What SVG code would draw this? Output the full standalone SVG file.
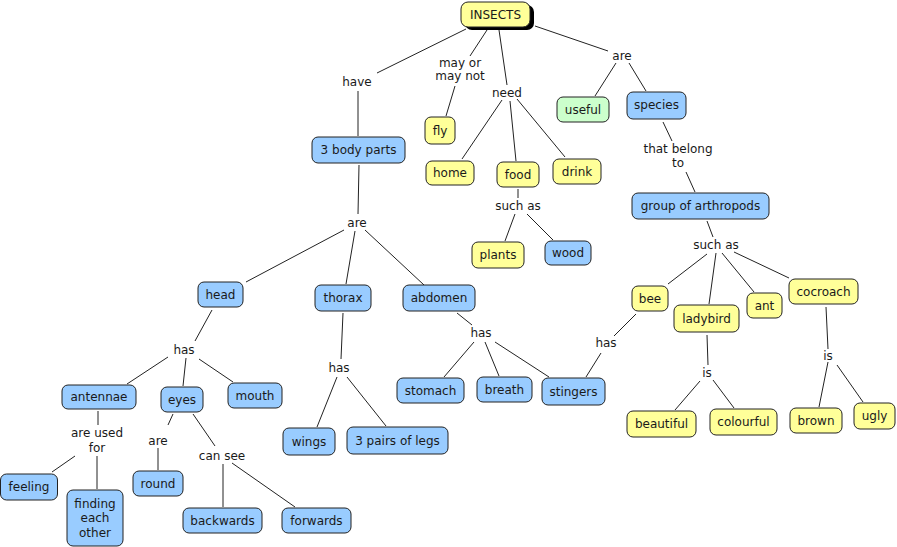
<svg xmlns="http://www.w3.org/2000/svg" width="897" height="547" viewBox="0 0 897 547">
<style>
text{font-family:"DejaVu Sans",Verdana,sans-serif;font-size:12px;fill:#1a1a1a;text-anchor:middle}
rect.n{stroke:#222;stroke-width:1}
.y{fill:#ffff99}.b{fill:#99ccff}.g{fill:#ccffcc}
#connectors line{stroke:#222;stroke-width:1}
</style>
<rect width="897" height="547" fill="#fff"/>
<g id="connectors">
<line x1="466" y1="29" x2="377" y2="73"/>
<line x1="358" y1="91" x2="358" y2="136"/>
<line x1="487" y1="30" x2="470" y2="56"/>
<line x1="455" y1="86" x2="446" y2="116"/>
<line x1="499" y1="30" x2="507" y2="85"/>
<line x1="502" y1="100" x2="462" y2="159"/>
<line x1="510" y1="101" x2="516" y2="161"/>
<line x1="517" y1="99" x2="565" y2="157"/>
<line x1="535" y1="26" x2="608" y2="51"/>
<line x1="616" y1="63" x2="595" y2="96"/>
<line x1="629" y1="63" x2="646" y2="91"/>
<line x1="663" y1="122" x2="672" y2="141"/>
<line x1="686" y1="172" x2="695" y2="192"/>
<line x1="518" y1="189" x2="518" y2="198"/>
<line x1="515" y1="214" x2="505" y2="241"/>
<line x1="527" y1="214" x2="553" y2="240"/>
<line x1="359" y1="165" x2="358" y2="214"/>
<line x1="344" y1="230" x2="246" y2="282"/>
<line x1="355" y1="231" x2="346" y2="284"/>
<line x1="365" y1="230" x2="424" y2="285"/>
<line x1="212" y1="310" x2="195" y2="341"/>
<line x1="186" y1="358" x2="183" y2="386"/>
<line x1="199" y1="359" x2="233" y2="382"/>
<line x1="168" y1="357" x2="127" y2="384"/>
<line x1="98" y1="411" x2="98" y2="425"/>
<line x1="97" y1="456" x2="97" y2="489"/>
<line x1="75" y1="456" x2="52" y2="472"/>
<line x1="173" y1="414" x2="168" y2="425"/>
<line x1="158" y1="448" x2="158" y2="470"/>
<line x1="193" y1="414" x2="215" y2="446"/>
<line x1="223" y1="464" x2="223" y2="507"/>
<line x1="232" y1="463" x2="295" y2="507"/>
<line x1="343" y1="313" x2="341" y2="359"/>
<line x1="337" y1="377" x2="317" y2="427"/>
<line x1="347" y1="377" x2="386" y2="426"/>
<line x1="457" y1="313" x2="472" y2="325"/>
<line x1="474" y1="342" x2="444" y2="377"/>
<line x1="485" y1="342" x2="499" y2="376"/>
<line x1="495" y1="342" x2="549" y2="377"/>
<line x1="636" y1="314" x2="614" y2="336"/>
<line x1="601" y1="353" x2="586" y2="377"/>
<line x1="707" y1="221" x2="713" y2="237"/>
<line x1="707" y1="254" x2="668" y2="284"/>
<line x1="716" y1="253" x2="709" y2="304"/>
<line x1="722" y1="253" x2="754" y2="292"/>
<line x1="734" y1="252" x2="789" y2="278"/>
<line x1="707" y1="335" x2="708" y2="365"/>
<line x1="700" y1="381" x2="675" y2="410"/>
<line x1="713" y1="380" x2="734" y2="408"/>
<line x1="826" y1="307" x2="828" y2="349"/>
<line x1="828" y1="362" x2="819" y2="407"/>
<line x1="837" y1="365" x2="863" y2="402"/>
</g>
<g id="labels">
<text x="357" y="86">have</text>
<text x="460" y="67">may or</text>
<text x="460" y="80">may not</text>
<text x="507" y="97">need</text>
<text x="622" y="60">are</text>
<text x="678" y="153">that belong</text>
<text x="678" y="167">to</text>
<text x="518" y="210">such as</text>
<text x="357" y="227">are</text>
<text x="716" y="249">such as</text>
<text x="481" y="337">has</text>
<text x="606" y="347">has</text>
<text x="707" y="377">is</text>
<text x="828" y="360">is</text>
<text x="184" y="354">has</text>
<text x="339" y="372">has</text>
<text x="97" y="437">are used</text>
<text x="97" y="452">for</text>
<text x="158" y="445">are</text>
<text x="222" y="460">can see</text>
</g>
<g id="insects"><rect x="465" y="5" width="69" height="25" rx="7" fill="#000"/><rect class="n y" x="461" y="2" width="69" height="25" rx="7"/><text x="495.5" y="19">INSECTS</text></g>
<g id="fly"><rect class="n y" x="425" y="117" width="30" height="27" rx="6"/><text x="440" y="135">fly</text></g>
<g id="body-parts"><rect class="n b" x="312" y="137" width="93" height="26" rx="6"/><text x="358.5" y="154">3 body parts</text></g>
<g id="useful"><rect class="n g" x="557" y="97" width="52" height="25" rx="6"/><text x="583" y="114">useful</text></g>
<g id="species"><rect class="n b" x="627" y="92" width="59" height="27" rx="6"/><text x="656.5" y="109">species</text></g>
<g id="home"><rect class="n y" x="426" y="161" width="48" height="24" rx="6"/><text x="450" y="177">home</text></g>
<g id="food"><rect class="n y" x="497" y="162" width="42" height="25" rx="6"/><text x="518" y="179">food</text></g>
<g id="drink"><rect class="n y" x="553" y="159" width="48" height="25" rx="6"/><text x="577" y="176">drink</text></g>
<g id="plants"><rect class="n y" x="472" y="242" width="52" height="26" rx="6"/><text x="498" y="259">plants</text></g>
<g id="wood"><rect class="n b" x="545" y="241" width="46" height="24" rx="6"/><text x="568" y="257">wood</text></g>
<g id="arthropods"><rect class="n b" x="632" y="193" width="137" height="26" rx="6"/><text x="700.5" y="210">group of arthropods</text></g>
<g id="head"><rect class="n b" x="198" y="282" width="45" height="25" rx="6"/><text x="220.5" y="299">head</text></g>
<g id="thorax"><rect class="n b" x="315" y="285" width="56" height="26" rx="6"/><text x="343" y="302">thorax</text></g>
<g id="abdomen"><rect class="n b" x="403" y="285" width="72" height="26" rx="6"/><text x="439" y="302">abdomen</text></g>
<g id="bee"><rect class="n y" x="632" y="286" width="36" height="25" rx="6"/><text x="650" y="303">bee</text></g>
<g id="ladybird"><rect class="n y" x="674" y="305" width="65" height="27" rx="6"/><text x="706.5" y="323">ladybird</text></g>
<g id="ant"><rect class="n y" x="747" y="293" width="35" height="25" rx="6"/><text x="764.5" y="310">ant</text></g>
<g id="cocroach"><rect class="n y" x="789" y="279" width="69" height="25" rx="6"/><text x="823.5" y="296">cocroach</text></g>
<g id="stomach"><rect class="n b" x="397" y="378" width="67" height="25" rx="6"/><text x="430.5" y="395">stomach</text></g>
<g id="breath"><rect class="n b" x="477" y="377" width="55" height="25" rx="6"/><text x="504.5" y="394">breath</text></g>
<g id="stingers"><rect class="n b" x="542" y="378" width="63" height="27" rx="6"/><text x="573.5" y="396">stingers</text></g>
<g id="antennae"><rect class="n b" x="62" y="385" width="74" height="24" rx="6"/><text x="99" y="401">antennae</text></g>
<g id="eyes"><rect class="n b" x="161" y="387" width="42" height="25" rx="6"/><text x="182" y="404">eyes</text></g>
<g id="mouth"><rect class="n b" x="228" y="383" width="54" height="25" rx="6"/><text x="255" y="400">mouth</text></g>
<g id="wings"><rect class="n b" x="283" y="428" width="52" height="27" rx="6"/><text x="309" y="446">wings</text></g>
<g id="legs"><rect class="n b" x="347" y="427" width="101" height="27" rx="6"/><text x="397.5" y="445">3 pairs of legs</text></g>
<g id="beautiful"><rect class="n y" x="627" y="411" width="69" height="26" rx="6"/><text x="661.5" y="428">beautiful</text></g>
<g id="colourful"><rect class="n y" x="710" y="409" width="67" height="26" rx="6"/><text x="743.5" y="426">colourful</text></g>
<g id="brown"><rect class="n y" x="790" y="408" width="52" height="25" rx="6"/><text x="816" y="425">brown</text></g>
<g id="ugly"><rect class="n y" x="854" y="403" width="41" height="26" rx="6"/><text x="874.5" y="420">ugly</text></g>
<g id="feeling"><rect class="n b" x="0.5" y="474" width="57" height="26" rx="6"/><text x="29" y="491">feeling</text></g>
<g id="finding"><rect class="n b" x="67" y="490" width="56" height="56" rx="6"/><text x="95" y="508">finding</text><text x="95" y="522">each</text><text x="95" y="537">other</text></g>
<g id="round"><rect class="n b" x="133" y="471" width="50" height="25" rx="6"/><text x="158" y="488">round</text></g>
<g id="backwards"><rect class="n b" x="183" y="508" width="79" height="25" rx="6"/><text x="222.5" y="525">backwards</text></g>
<g id="forwards"><rect class="n b" x="282" y="508" width="69" height="25" rx="6"/><text x="316.5" y="525">forwards</text></g>
</svg>
